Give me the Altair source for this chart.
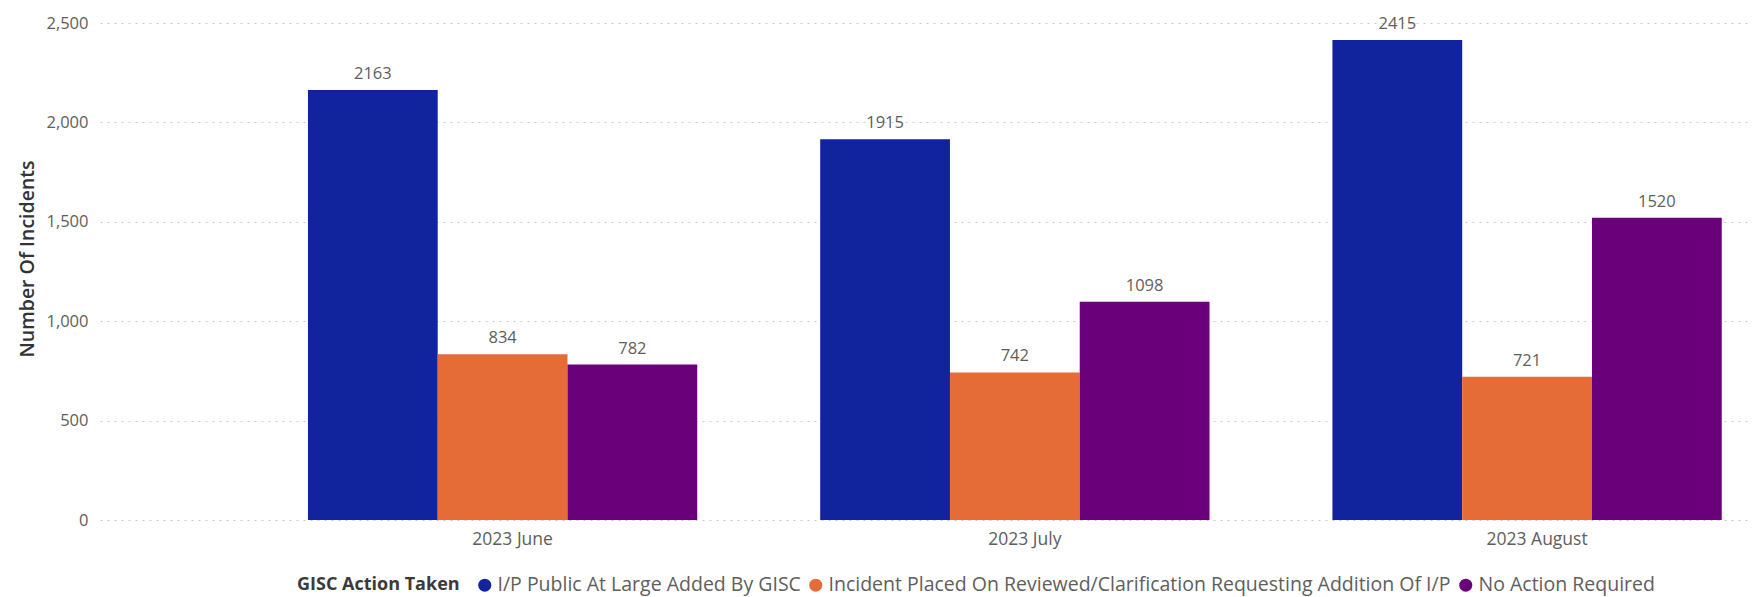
import altair as alt
import pandas as pd

months = ["2023 June", "2023 July", "2023 August"]
actions = [
    "I/P Public At Large Added By GISC",
    "Incident Placed On Reviewed/Clarification Requesting Addition Of I/P",
    "No Action Required",
]
public_at_large = [2163, 1915, 2415]
placed_on_reviewed = [834, 742, 721]
no_action = [782, 1098, 1520]
colors = ["#12239E", "#E66C37", "#6B007B"]
y_ticks = [0, 500, 1000, 1500, 2000, 2500]

rows = []
for series, vals in zip(actions, [public_at_large, placed_on_reviewed, no_action]):
    for m, v in zip(months, vals):
        rows.append({"Month": m, "Action": series, "Incidents": v})
df = pd.DataFrame(rows)

FONT = "Open Sans"
LABEL_COLOR = "#605E5C"

x = alt.X(
    "Month:N",
    sort=months,
    scale=alt.Scale(paddingInner=0.24, paddingOuter=0.2325, align=0.873),
    axis=alt.Axis(
        title=None, labelAngle=0, ticks=False, domain=False, grid=False,
        labelFontSize=17.5, labelColor=LABEL_COLOR, labelPadding=10, labelOffset=10,
        labelFont=FONT,
    ),
)
xo = alt.XOffset("Action:N", sort=actions, scale=alt.Scale(paddingInner=0, paddingOuter=0))
y = alt.Y(
    "Incidents:Q",
    scale=alt.Scale(domain=[0, 2500], nice=False),
    axis=alt.Axis(
        values=y_ticks, format=",.0f", title="Number Of Incidents",
        ticks=False, domain=False, labelPadding=12,
        labelFontSize=16.5, labelColor=LABEL_COLOR, labelFont=FONT,
        grid=True, gridDash=[2, 5], gridColor="#C8C8C8", gridWidth=1,
        titleX=-67, titleY=235.5, titleAngle=270, titleAlign="center",
        titleBaseline="alphabetic", titleFontSize=19.5, titleFontWeight=600,
        titleColor="#333333", titleFont=FONT,
    ),
)
color = alt.Color(
    "Action:N",
    sort=actions,
    scale=alt.Scale(domain=actions, range=colors),
    legend=alt.Legend(
        orient="none", legendX=197, legendY=552, direction="horizontal",
        title="GISC Action Taken", titleOrient="left", titleFontSize=18,
        titleFontWeight="bold", titleColor="#3B3A39", titlePadding=15, titleFont=FONT,
        labelFontSize=19.5, labelColor=LABEL_COLOR, labelLimit=1200, labelFont=FONT,
        labelOffset=3, columnPadding=5,
        symbolType="circle", symbolSize=169, symbolStrokeWidth=0, symbolOpacity=1,
    ),
)

base = alt.Chart(df).encode(x=x, xOffset=xo, y=y)
bars = base.mark_bar().encode(color=color)
text = base.mark_text(
    dy=-11, baseline="alphabetic", fontSize=16.5, color=LABEL_COLOR, font=FONT
).encode(text="Incidents:Q")

chart = (
    alt.layer(bars, text)
    .properties(
        width=1652,
        height=497,
        padding={"left": 92, "top": 15, "right": 0, "bottom": 77},
        autosize=alt.AutoSizeParams(type="none"),
    )
    .configure(font=FONT)
    .configure_view(stroke=None)
)

chart.save("out.html", embed_options={"renderer": "svg", "actions": False})
